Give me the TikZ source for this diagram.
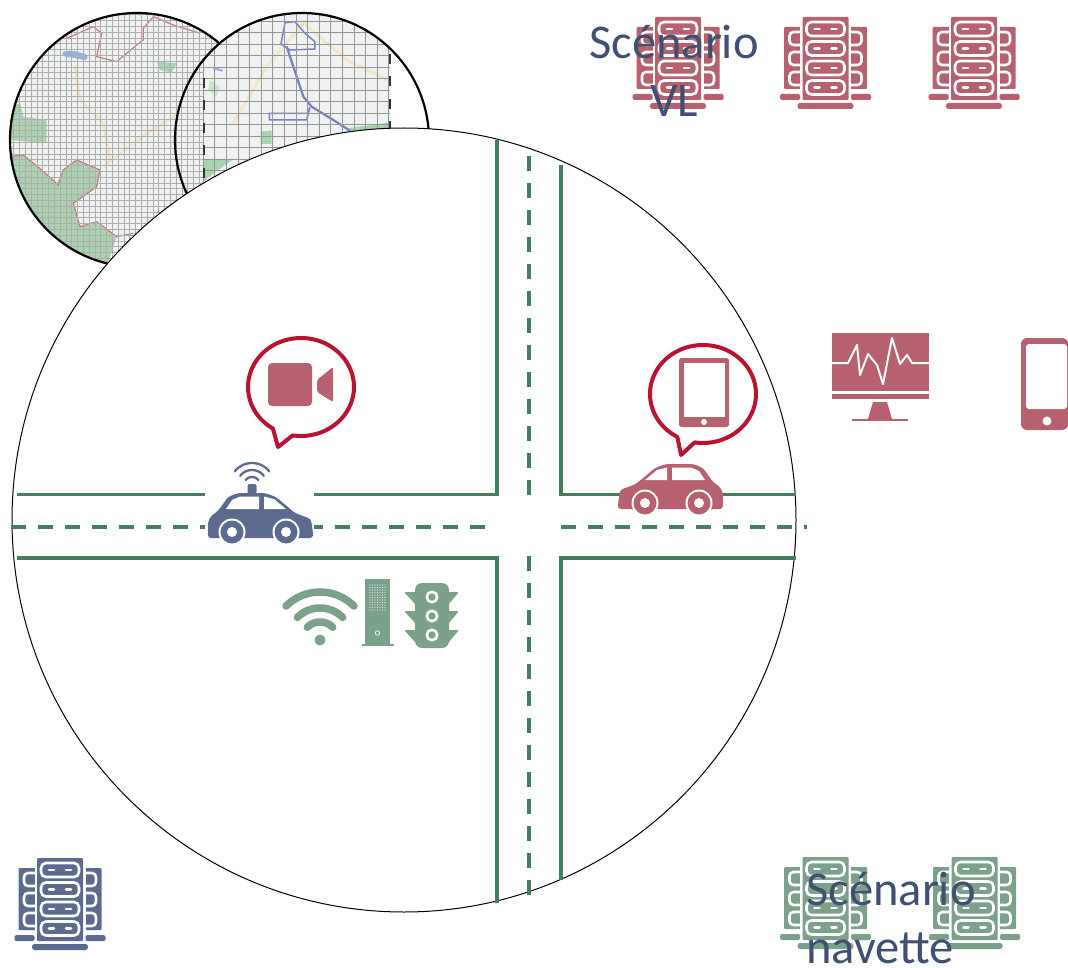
\documentclass[tikz,border=0pt]{standalone}
\usepackage{fontspec}
\setmainfont{Carlito}
\definecolor{iconred}{HTML}{B7606F}
\definecolor{icongreen}{HTML}{7BA18A}
\definecolor{iconblue}{HTML}{5B6A8E}
\definecolor{road}{HTML}{437F5F}
\definecolor{bubblered}{HTML}{B8142F}
\definecolor{titleblue}{HTML}{3F5070}
\definecolor{mapbg}{HTML}{F0F2F1}
\definecolor{mapgreen}{HTML}{A9D3AE}
\definecolor{mapred}{HTML}{C8787A}
\definecolor{maproute}{HTML}{7480CC}
\definecolor{maplake}{HTML}{8FB2E6}
\definecolor{maproad}{HTML}{F3E6C8}
\tikzset{
  roadline/.style={draw=road,line width=3.5pt},
  roaddash/.style={draw=road,line width=3.5pt,dash pattern=on 15pt off 12pt},
  mapring/.style={draw=black,line width=2.2pt},
  bubble/.style={draw=bubblered,fill=white,line width=4pt,line join=round},
  title/.style={text=titleblue,font=\fontsize{48.5}{58}\selectfont,inner sep=0pt},
  pics/server/.style={code={
    \fill[#1,rounded corners=1pt] (-41.5,10) rectangle (-10,72);
    \fill[#1,rounded corners=1pt] (10,10) rectangle (41.5,72);
    \foreach \yy in {15,35,55}{
      \draw[white,line width=2.6pt,rounded corners=4pt] (-36,\yy) rectangle (-18,\yy+13);
      \draw[white,line width=2.6pt,rounded corners=4pt] (18,\yy) rectangle (36,\yy+13);
    }
    \fill[white] (-25.5,5) rectangle (25.5,75);
    \fill[#1,rounded corners=1pt] (-23,0) rectangle (23,83);
    \foreach \yy in {5,24.5,44,63.5}{
      \draw[white,line width=2.6pt,rounded corners=5pt] (-19,\yy) rectangle (19,\yy+14);
      \draw[white,line width=2.8pt,line cap=round] (-11,\yy+7) -- (-6,\yy+7);
      \draw[white,line width=2.8pt,line cap=round] (6,\yy+7) -- (11,\yy+7);
    }
    \fill[#1,rounded corners=1.5pt] (-45.5,77) rectangle (-25.5,83);
    \fill[#1,rounded corners=1.5pt] (25.5,77) rectangle (45.5,83);
    \fill[#1,rounded corners=2.5pt] (-28,86) rectangle (28,92);
  }},
  pics/car/.style={code={
    \fill[#1,rounded corners=3pt] (0,40) -- (2,26) -- (18,20) -- (37,4) -- (48,0) -- (75,0) -- (85,4) -- (95,18) -- (102,23) -- (105,29) -- (105,45) -- (0,45) -- cycle;
    \fill[white] (27,16) -- (39,6) -- (49,3.5) -- (49,16) -- cycle;
    \fill[white] (54,3.5) -- (73,3.5) -- (81,7) -- (87,16) -- (54,16) -- cycle;
    \foreach \xx in {27,81}{
      \fill[white] (\xx,39) circle (13.5);
      \fill[#1] (\xx,39) circle (11.5);
      \fill[white] (\xx,39) circle (5);
    }
  }}
}
\begin{document}
\begin{tikzpicture}[x=1pt,y=-1pt]
\useasboundingbox (0,0) rectangle (1068,968);
\fill[white] (0,0) rectangle (1068,968);

% left map
\begin{scope}
\clip (137,140) circle (127);
\fill[mapbg] (0,0) rectangle (270,270);
\begin{scope}[scale=1/3]
 \draw[maproad,line width=3pt] (225,200) -- (240,300) -- (310,370) -- (330,480);
 \draw[maproad,line width=3pt] (620,290) -- (440,400) -- (310,500);
 \fill[mapgreen] (30,470) -- (70,465) -- (170,550) -- (190,510) -- (230,480) -- (300,510) -- (290,560) -- (220,610) -- (240,680) -- (290,670) -- (350,710) -- (320,800) -- (150,760) -- (30,600) -- cycle;
 \fill[mapgreen] (30,320) -- (60,310) -- (70,350) -- (140,360) -- (140,430) -- (30,420) -- cycle;
 \fill[mapgreen] (470,185) -- (530,190) -- (515,218) -- (480,210) -- cycle;
 \fill[maplake,rounded corners=3pt] (185,155) -- (220,152) -- (265,165) -- (260,182) -- (215,172) -- (190,170) -- cycle;
 \draw[mapred,line width=1.2pt] (30,470) -- (70,465) -- (125,510) -- (175,555) -- (190,510) -- (230,480) -- (300,510) -- (290,560) -- (220,610) -- (240,680) -- (290,665) -- (350,710) -- (400,700);
 \draw[mapred,line width=1.2pt] (200,115) -- (280,80) -- (305,100) -- (290,170) -- (350,185) -- (410,135) -- (430,120) -- (430,85) -- (460,50) -- (520,75) -- (600,100);
\end{scope}
\foreach \g in {0,5.8,...,270}{
  \draw[black!32,line width=.4pt] (\g+2,0) -- (\g+2,270);
  \draw[black!32,line width=.4pt] (0,\g+3) -- (270,\g+3);
}
\end{scope}
\draw[mapring] (137,140) circle (127);

% right map
\begin{scope}
\clip (302,140) circle (127);
\fill[white] (170,0) rectangle (430,270);
\fill[mapbg] (170,0) rectangle (390,270);
\foreach \g in {170,175.8,...,203}{
  \draw[black!32,line width=.4pt] (\g,0) -- (\g,270);
}
\foreach \g in {3,8.8,...,270}{
  \draw[black!32,line width=.4pt] (170,\g) -- (203,\g);
}
\begin{scope}[scale=1/3]
 \draw[maproad,line width=3pt] (700,370) -- (800,200) -- (920,60);
 \draw[maproad,line width=3pt] (900,60) -- (1040,180) -- (1165,240);
 \fill[mapgreen] (610,480) -- (700,478) -- (640,520) -- (610,545) -- cycle;
 \fill[mapgreen] (782,395) -- (815,392) -- (815,432) -- (782,432) -- cycle;
 \fill[mapgreen] (1040,385) -- (1170,368) -- (1170,400) -- (1040,400) -- cycle;
 \fill[mapgreen!60] (630,240) -- (660,260) -- (650,290) -- (625,270) -- cycle;
 \fill[maplake] (640,200) -- (670,210) -- (665,215) -- (640,208) -- cycle;
 \draw[maproute,line width=1.5pt] (855,68) -- (885,65) -- (915,100) -- (945,125) -- (945,147) -- (870,150) -- (843,132) -- cycle;
 \draw[maproute,line width=1.5pt] (808,340) -- (922,340) -- (930,322) -- (920,360) -- (808,360) -- cycle;
 \draw[maproute,line width=2.2pt] (860,140) -- (880,200) -- (910,290) -- (935,320) -- (1000,360) -- (1050,392);
\end{scope}
\foreach \g in {203,214.6,...,392}{
  \draw[black!42,line width=.5pt] (\g,0) -- (\g,270);
}
\foreach \g in {9.5,21,...,270}{
  \draw[black!42,line width=.5pt] (203,\g) -- (390,\g);
}
\draw[black!80,line width=2pt,dash pattern=on 10pt off 12.5pt] (203.5,78) -- (203.5,200);
\draw[black!80,line width=2pt,dash pattern=on 10pt off 12.5pt] (389.5,54) -- (389.5,130);
\end{scope}
\draw[mapring] (302,140) circle (127);

% big circle
\draw[black,fill=white,line width=1pt] (404,520) circle (392);

% roads
\draw[roadline] (17,494.5) -- (497,494.5) -- (497,140);
\draw[roadline] (796,494.5) -- (561,494.5) -- (561,165);
\draw[roadline] (17,558) -- (497,558) -- (497,903);
\draw[roadline] (796,558) -- (561,558) -- (561,880);
\draw[roaddash] (11,527) -- (485,527);
\draw[roaddash] (561,527) -- (807,527);
\draw[roaddash] (529,156) -- (529,495);
\draw[roaddash] (529,556) -- (529,895);

% bubble + camera
\draw[bubble] plot[domain=122:459,samples=90] ({301+53*cos(\x)},{387+49*sin(\x)}) -- (278,447) -- cycle;
\fill[iconred,rounded corners=4pt] (268,363) rectangle (312,406);
\fill[iconred,rounded corners=2pt] (317,380) -- (333,367) -- (333,402) -- (317,392) -- cycle;

% blue car
\fill[white] (205,458) rectangle (314,545);
\pic[xscale=-1] at (313,493) {car=iconblue};
\fill[iconblue,rounded corners=2pt] (247.5,494) -- (247.5,484) -- (256.5,484) -- (256.5,494) -- cycle;
\foreach \r in {8,15,22}{
  \draw[iconblue,line width=2.3pt,line cap=round] plot[domain=38:142,samples=15] ({252+\r*cos(\x)},{485-\r*sin(\x)});
}

% wifi, tower, traffic light
\fill[icongreen] (320,640) circle (5.5);
\foreach \r in {18,32,48}{
  \draw[icongreen,line width=7.5pt,line cap=round] plot[domain=45:135,samples=20] ({320+\r*cos(\x)},{640-\r*sin(\x)});
}
\fill[icongreen] (365,579) rectangle (390,645);
\draw[icongreen,line width=1.5pt] (362,645) -- (394,645);
\foreach \dx in {370,372.5,...,385}{
  \foreach \dy in {585,587.5,...,610}{
    \fill[white!75!icongreen] (\dx,\dy) circle (.7);
  }
}
\draw[white,line width=.7pt] (377.5,633) circle (2.2);
\fill[icongreen,rounded corners=7pt] (415,583) rectangle (449,648);
\foreach \wy in {592,611,630}{
  \fill[icongreen,rounded corners=1.5pt] (416,\wy) -- (404,\wy) -- (416,\wy+13) -- cycle;
  \fill[icongreen,rounded corners=1.5pt] (448,\wy) -- (459,\wy) -- (448,\wy+13) -- cycle;
}
\foreach \cy in {597,616,635}{
  \draw[white,line width=2.6pt] (432,\cy) circle (5.2);
}

% red car, bubble + tablet
\pic at (618,464) {car=iconred};
\draw[bubble] plot[domain=119:459,samples=90] ({703+53*cos(\x)},{394+49*sin(\x)}) -- (681,455) -- cycle;
\fill[iconred,rounded corners=2.5pt] (679,358) rectangle (729,427);
\fill[white] (684,363) rectangle (725,417);
\fill[white] (704,422) circle (3);

% monitor
\fill[iconred] (832,333) rectangle (929,399);
\fill[white] (832,391) rectangle (929,393.5);
\draw[white,line width=2pt,line join=round] (832,363) -- (848,363) -- (857,345) -- (860,375) -- (868,354) -- (877,365) -- (883,384) -- (892,338) -- (900,364) -- (907,355) -- (912,363) -- (929,363);
\fill[iconred] (873,402) -- (887,402) -- (892,419) -- (868,419) -- cycle;
\draw[iconred,line width=1.5pt] (852,420) -- (908,420);

% phone
\fill[iconred,rounded corners=6pt] (1021,338) rectangle (1068,430);
\fill[white,rounded corners=3pt] (1026,344) rectangle (1067,409);
\fill[white] (1047,421) circle (4.5);

% servers
\pic at (678,17) {server=iconred};
\pic at (825.5,17) {server=iconred};
\pic at (974,17) {server=iconred};
\pic at (825.5,857) {server=icongreen};
\pic at (974.5,857) {server=icongreen};
\pic at (60,858) {server=iconblue};

% titles
\node[title,align=center] (vl) at (674,71) {Scénario\\VL};
\node[title,align=left] (nav) at (891,918) {Scénario\\navette};
\end{tikzpicture}
\end{document}
